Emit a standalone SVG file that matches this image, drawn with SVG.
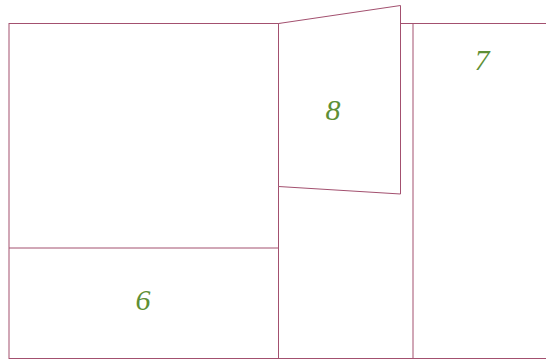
<svg xmlns="http://www.w3.org/2000/svg" width="546" height="361" viewBox="0 0 546 361">
<style>
.ln{fill:none;stroke:#a3506f;stroke-width:1}
.door{fill:#ffffff;stroke:#a3506f;stroke-width:1}
.lbl{font-family:"Liberation Serif",serif;font-style:italic;font-size:30px;fill:#5e8f35;text-anchor:middle}
</style>
<rect width="546" height="361" fill="#ffffff"/>
<g id="connectors">
<rect class="ln" x="9" y="23.5" width="545" height="335"/>
<line class="ln" x1="278.5" y1="23.5" x2="278.5" y2="358.5"/>
<line class="ln" x1="9" y1="248" x2="278.5" y2="248"/>
<line class="ln" x1="413" y1="23.5" x2="413" y2="358.5"/>
</g>
<g id="node6">
<text class="lbl" x="143" y="310">6</text>
</g>
<g id="node7">
<text class="lbl" x="482" y="70">7</text>
</g>
<g id="node8">
<polygon class="door" points="278.5,23.5 400.5,5.5 400.5,194 278.5,186.5"/>
<text class="lbl" x="333" y="120">8</text>
</g>
</svg>
